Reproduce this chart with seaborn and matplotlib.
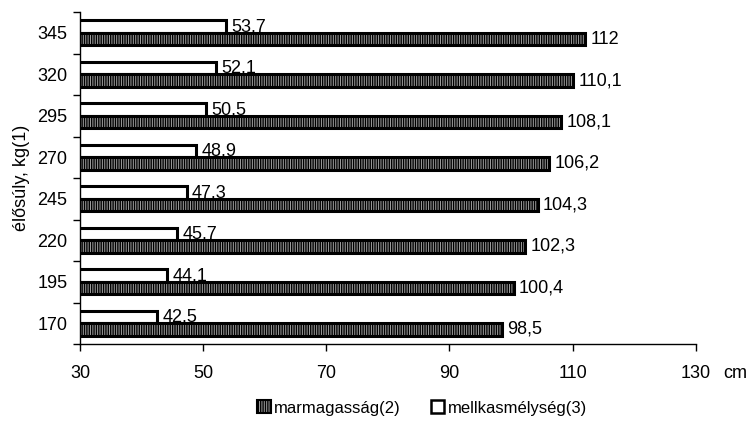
import matplotlib
matplotlib.use("Agg")
import matplotlib.pyplot as plt
import seaborn as sns
import pandas as pd
from matplotlib.patches import Patch

categories = ["170", "195", "220", "245", "270", "295", "320", "345"]
marmagassag = [98.5, 100.4, 102.3, 104.3, 106.2, 108.1, 110.1, 112.0]
mellkas = [42.5, 44.1, 45.7, 47.3, 48.9, 50.5, 52.1, 53.7]
series_names = ["marmagasság(2)", "mellkasmélység(3)"]
x_ticks = [30, 50, 70, 90, 110, 130]

sns.set_theme(style="white")
plt.rcParams["font.family"] = ["Liberation Sans", "DejaVu Sans"]
plt.rcParams["hatch.color"] = "black"
plt.rcParams["hatch.linewidth"] = 1.0
for k in ["text.color", "axes.labelcolor", "xtick.color", "ytick.color"]:
    plt.rcParams[k] = "black"

rows = []
for c, a, b in zip(categories, marmagassag, mellkas):
    rows.append({"kg": c, "serie": series_names[0], "val": a})
    rows.append({"kg": c, "serie": series_names[1], "val": b})
df = pd.DataFrame(rows)

fig = plt.figure(figsize=(7.51, 4.30), dpi=100)
ax = fig.add_axes([0.1065, 0.2, 0.820, 0.772])

order = categories[::-1]
hue_order = [series_names[1], series_names[0]]
fill = "#a0a0a0"
sns.barplot(data=df, y="kg", x="val", hue="serie", order=order, hue_order=hue_order,
            orient="h", width=0.6, palette=["white", fill], edgecolor="black",
            linewidth=2.2, legend=False, ax=ax, errorbar=None)

for cont, name in zip(ax.containers, hue_order):
    if name == series_names[0]:
        for bar in cont:
            bar.set_hatch("|||||||")
    ax.bar_label(cont, labels=[f"{v:g}".replace(".", ",") for v in cont.datavalues],
                 padding=4, fontsize=13, color="black")

ax.set_xlim(30, 130)
ax.set_xticks(x_ticks)
ax.set_xticklabels([str(t) for t in x_ticks], fontsize=13)
ax.set_ylim(len(categories) - 0.5, -0.5)
ax.set_yticks(range(len(categories)))
ax.set_yticklabels(order, fontsize=13)
ax.tick_params(axis="y", which="major", length=0, pad=9)
ax.set_yticks([i - 0.5 for i in range(len(categories) + 1)], minor=True)
ax.tick_params(axis="y", which="minor", length=5, width=1, color="black", direction="out", left=True)
ax.tick_params(axis="x", which="major", length=5, width=1, color="black", direction="out", bottom=True, pad=10)
ax.set_xlabel("")
ax.set_ylabel("élősúly, kg(1)", fontsize=13, labelpad=5)
for s in ["top", "right"]:
    ax.spines[s].set_visible(False)
for s in ["left", "bottom"]:
    ax.spines[s].set_color("black")
    ax.spines[s].set_linewidth(1.0)

fig.text(735 / 751, 1 - 373 / 430, "cm", fontsize=13, ha="center", va="center")

handles = [Patch(facecolor=fill, edgecolor="black", hatch="|||||||", linewidth=1.5),
           Patch(facecolor="white", edgecolor="black", linewidth=1.8)]
fig.legend(handles, series_names, loc="center", bbox_to_anchor=(0.562, 1 - 408 / 430), ncol=2,
           frameon=False, fontsize=12, handlelength=0.8, handleheight=0.8,
           handletextpad=0.2, columnspacing=1.8)

fig.savefig("out.png", dpi=100)
